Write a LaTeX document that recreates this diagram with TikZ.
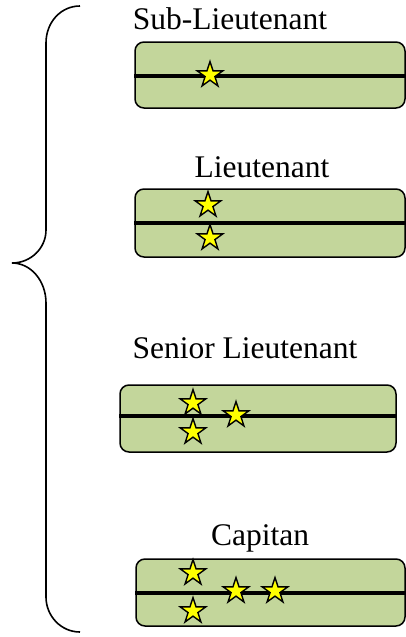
\documentclass[tikz,border=0pt]{standalone}
\usepackage{fontspec}
\setmainfont{Liberation Serif}
\usetikzlibrary{shapes.geometric}
\definecolor{bargreen}{HTML}{C3D69B}
\definecolor{staryellow}{HTML}{FFFF00}
\tikzset{
  bar/.style={draw, line width=1.5pt, fill=bargreen, rounded corners=9pt, inner sep=0pt},
  midline/.style={line width=4pt},
  pip/.style={star, star points=5, star point ratio=2.618, draw, line width=1.4pt,
    fill=staryellow, minimum size=27pt, inner sep=0pt},
  rank/.style={anchor=base, inner sep=0pt, font=\fontsize{31.5}{36}\selectfont}
}
\begin{document}
\begin{tikzpicture}[x=1pt,y=-1pt]
            \useasboundingbox (0,0) rectangle (406,637);
            % brace
            \draw[line width=1.6pt] (80,6) .. controls (61,6) and (46,22) .. (46,43)
              -- (46,230) .. controls (46,248) and (31,263) .. (12,263)
              .. controls (31,263) and (46,281) .. (46,303)
              -- (46,597) .. controls (46,616) and (61,632) .. (80,632);
            % labels
            \node[rank] (t1) at (230,29) {Sub-Lieutenant};
            \node[rank] (t2) at (262,177) {Lieutenant};
            \node[rank] (t3) at (245,358) {Senior Lieutenant};
            \node[rank] (t4) at (260,545) {Capitan};
            % shoulder boards
            \node[bar, minimum width=270pt, minimum height=66pt] (b1) at (270,75) {};
            \node[bar, minimum width=270pt, minimum height=68pt] (b2) at (270,223) {};
            \node[bar, minimum width=276pt, minimum height=67pt] (b3) at (258,418.5) {};
            \node[bar, minimum width=269pt, minimum height=67pt] (b4) at (270.5,592.5) {};
            \draw[midline] ([yshift=-1pt]b1.west) -- ([yshift=-1pt]b1.east);
            \draw[midline] (b2.west) -- (b2.east);
            \draw[midline] ([yshift=2.5pt]b3.west) -- ([yshift=2.5pt]b3.east);
            \draw[midline] (b4.west) -- (b4.east);
            % stars
            \node[pip] (s11) at (210,75) {};
            \node[pip] (s21) at (208,205) {};
            \node[pip] (s22) at (210,238) {};
            \node[pip] (s31) at (193,403) {};
            \node[pip] (s32) at (193,432) {};
            \node[pip] (s33) at (236,415) {};
            \node[pip] (s41) at (193,573) {};
            \node[pip] (s42) at (193,611) {};
            \node[pip] (s43) at (236,591) {};
            \node[pip] (s44) at (275,591) {};
\end{tikzpicture}
\end{document}
